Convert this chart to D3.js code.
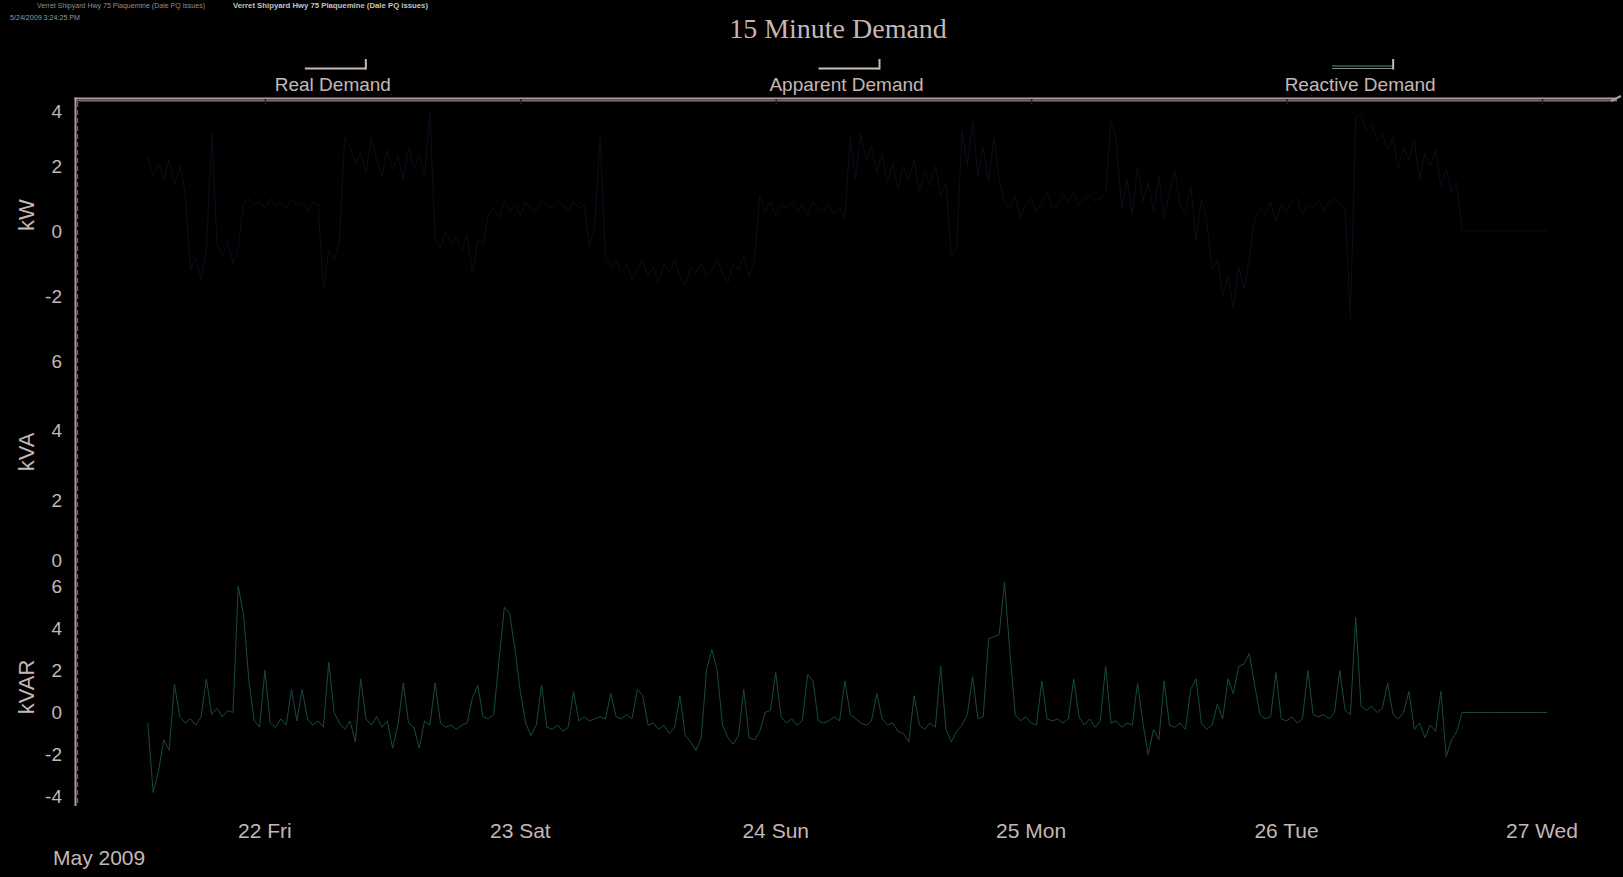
<!DOCTYPE html>
<html><head><meta charset="utf-8">
<script src="https://cdn.jsdelivr.net/npm/d3@7/dist/d3.min.js"></script>
<style>html,body{margin:0;padding:0;background:#000;overflow:hidden}</style>
</head><body>
<svg id="chart" width="1623" height="877"></svg>
<script>
// ---------- data ----------
const chartTitle = "15 Minute Demand";
const headerSite = "Verret Shipyard Hwy 75 Plaquemine (Dale PQ issues)";
const headerDate = "5/24/2009 3:24:25 PM";
const seriesNames = ["Real Demand", "Apparent Demand", "Reactive Demand"];
const panelUnits = ["kW", "kVA", "kVAR"];
const monthLabel = "May 2009";
const dayTicks = [22, 23, 24, 25, 26, 27].map(d => new Date(2009, 4, d));
const kwTicks = [4, 2, 0, -2];
const kvaTicks = [6, 4, 2, 0];
const kvarTicks = [6, 4, 2, 0, -2, -4];
const startTime = new Date(2009, 4, 21, 13, 0);   // first sample
const stepMinutes = 30;                            // sample spacing

// Real demand (kW), every 30 min from May 21 13:00
const kwValues = [
  2.3, 1.7, 2.1, 1.6, 2.2, 1.4, 2.0, 1.2, -1.2, -0.8,
  -1.5, -0.6, 3.0, -0.4, -0.8, -0.3, -1.0, -0.5, 0.9, 1.0, 0.8, 0.9,
  0.7, 1.0, 0.8, 0.9, 0.7, 1.0, 0.8, 0.9, 0.6, 0.9, 0.8, -1.8,
  -0.6, -0.9, -0.3, 2.9, 2.6, 2.1, 2.4, 1.8, 2.9, 2.2, 1.7, 2.5,
  1.9, 2.3, 1.6, 2.6, 1.9, 2.4, 1.7, 3.7, -0.3, -0.5, 0.0, -0.4,
  -0.2, -0.6, -0.1, -1.3, -0.3, -0.4, 0.5, 0.7, 0.4, 0.9, 0.6, 0.8,
  0.5, 0.9, 0.7, 0.6, 0.9, 0.8, 0.7, 0.9, 0.8, 0.6, 0.9, 0.7,
  0.8, -0.5, 0.2, 2.9, -0.8, -1.1, -0.9, -1.3, -1.0, -1.5, -1.2, -0.9,
  -1.4, -1.1, -1.6, -1.0, -1.3, -0.9, -1.4, -1.7, -1.1, -1.3, -1.0, -1.4,
  -1.2, -0.9, -1.3, -1.6, -1.0, -1.2, -0.8, -1.4, -0.9, 1.1, 0.6, 0.9,
  0.5, 0.8, 0.7, 0.9, 0.6, 0.8, 0.5, 0.9, 0.7, 0.6, 0.8, 0.5,
  0.7, 0.4, 2.9, 1.6, 3.0, 2.2, 2.6, 1.8, 2.4, 1.5, 2.1, 1.3,
  2.0, 1.6, 2.2, 1.2, 1.9, 1.4, 2.0, 1.1, 1.5, -0.8, -0.5, 3.1,
  2.0, 3.4, 1.7, 2.6, 1.5, 2.9, 1.6, 0.9, 0.7, 1.1, 0.4, 0.8,
  1.0, 0.6, 0.9, 1.2, 0.7, 0.8, 1.1, 0.9, 1.2, 0.8, 1.0, 1.1,
  0.9, 1.0, 1.2, 3.4, 2.8, 0.7, 1.6, 0.5, 2.0, 0.9, 1.5, 0.6,
  1.7, 0.4, 1.2, 1.9, 0.8, 0.5, 1.4, -0.3, 1.0, 0.3, -1.2, -0.9,
  -2.0, -1.4, -2.4, -1.1, -1.8, -0.9, 0.4, 0.7, 0.5, 0.9, 0.3, 0.8,
  0.6, 0.9, 1.0, 0.5, 0.8, 0.7, 1.0, 0.6, 0.9, 1.0, 0.8, 0.7,
  -2.7, 3.5, 3.6, 3.1, 3.3, 2.8, 3.0, 2.5, 2.9, 1.9, 2.6, 2.2,
  2.8, 1.6, 2.4, 2.0, 2.5, 1.4, 1.9, 1.2, 1.5, 0.0,
  0, 0, 0, 0, 0, 0, 0, 0, 0, 0, 0, 0, 0, 0, 0, 0
];

// Apparent demand (kVA): no trace visible in the chart
const kvaValues = [];

// Reactive demand (kVAR), every 30 min from May 21 13:00
const kvarValues = [
  -0.5, -3.8, -2.8, -1.3, -1.8, 1.35, -0.2, -0.5, -0.3, -0.6,
  -0.2, 1.6, -0.1, 0.2, -0.2, 0.1, 0.0, 6.0, 4.6, 1.5, -0.4, -0.7,
  2.0, -0.5, -0.7, -0.3, -0.6, 1.1, -0.4, 1.1, -0.3, -0.6, -0.4, -0.7,
  2.4, 0.0, -0.5, -0.8, -0.4, -1.4, 1.6, -0.3, -0.6, -0.2, -0.7, -0.4,
  -1.7, -0.6, 1.4, -0.5, -0.7, -1.7, -0.4, -0.6, 1.4, -0.5, -0.7, -0.6,
  -0.8, -0.6, -0.5, 0.7, 1.3, -0.2, -0.3, -0.1, 2.5, 5.0, 4.7, 3.0,
  1.0, -0.5, -1.1, -0.6, 1.3, -0.7, -0.8, -0.6, -0.9, -0.7, 1.0, -0.4,
  -0.2, -0.4, -0.3, -0.2, -0.3, 0.9, -0.2, -0.3, -0.1, -0.3, 1.1, 0.8,
  -0.6, -0.5, -0.8, -0.6, -1.0, -0.7, 0.8, -1.1, -1.4, -1.8, -1.2, 2.0,
  3.0, 2.0, -0.6, -1.2, -1.5, -1.1, 1.1, -1.2, -1.3, -0.9, 0.0, 0.1,
  1.9, -0.2, -0.5, -0.3, -0.6, -0.4, 1.8, 1.5, -0.4, -0.5, -0.4, -0.2,
  -0.4, 1.5, -0.1, -0.3, -0.5, -0.6, -0.4, 0.9, -0.3, -0.6, -0.5, -0.9,
  -1.0, -1.4, 0.8, -0.6, -0.8, -0.5, -0.7, 2.2, -0.8, -1.4, -0.9, -0.6,
  -0.1, 1.7, -0.3, -0.2, 3.5, 3.6, 3.7, 6.2, 2.9, -0.1, -0.4, -0.2,
  -0.5, -0.6, 1.5, -0.3, -0.4, -0.3, -0.5, -0.3, 1.6, -0.2, -0.6, -0.3,
  -0.7, -0.4, 2.2, -0.5, -0.4, -0.7, -0.5, -0.6, 1.4, -0.5, -2.0, -0.8,
  -1.3, 1.5, -0.6, -0.7, -0.5, -0.8, 1.1, 1.6, -0.5, -0.8, -0.6, 0.4,
  -0.3, 1.6, 0.9, 2.2, 2.3, 2.8, 1.3, -0.1, -0.3, -0.2, 1.9, -0.3,
  -0.4, -0.2, -0.5, -0.3, 2.0, -0.1, -0.2, -0.1, -0.3, 0.0, 2.0, 0.1,
  -0.1, 4.5, 0.3, 0.1, 0.3, 0.0, 0.2, 1.4, -0.1, -0.3, 0.0, 1.0,
  -0.8, -0.5, -1.2, -0.6, -0.9, 1.0, -2.1, -1.3, -0.9, 0.0,
  0, 0, 0, 0, 0, 0, 0, 0, 0, 0, 0, 0, 0, 0, 0, 0
];

// ---------- layout / style ----------
const W = 1623, H = 877;
const plotLeft = 76, plotRight = 1617, plotTop = 100;
const textColor = "#c6b7b7";
const axisColor = "#ad9d9c";
const sans = "'Liberation Sans', Arial, sans-serif";

const toPoints = vals => vals.map((v, i) => ({ t: new Date(startTime.getTime() + i * stepMinutes * 60000), v }));

const panels = [
  { unit: panelUnits[0], top: 100, bottom: 340, domain: [-3.364, 4.043], ticks: kwTicks, values: kwValues, color: "#130a1a", titleY: 215 },
  { unit: panelUnits[1], top: 340, bottom: 570, domain: [-0.014, 6.604], ticks: kvaTicks, values: kvaValues, color: "#111111", titleY: 452 },
  { unit: panelUnits[2], top: 570, bottom: 806, domain: [-4.442, 6.770], ticks: kvarTicks, values: kvarValues, color: "#174a44", titleY: 687 }
];

const svg = d3.select("#chart");
svg.append("rect").attr("width", W).attr("height", H).attr("fill", "#000");

const x = d3.scaleTime()
  .domain([new Date(2009, 4, 21, 6, 15), new Date(2009, 4, 27, 7, 3)])
  .range([plotLeft, plotRight]);

// header
svg.append("text").attr("x", 37).attr("y", 8).attr("font-family", sans).attr("font-size", 7)
  .attr("fill", "#8e8e8e").attr("textLength", 168).attr("lengthAdjust", "spacingAndGlyphs").text(headerSite);
svg.append("text").attr("x", 233).attr("y", 8).attr("font-family", sans).attr("font-size", 7.5).attr("font-weight", "bold")
  .attr("fill", "#c4c4c4").attr("textLength", 195).attr("lengthAdjust", "spacingAndGlyphs").text(headerSite);
svg.append("text").attr("x", 10).attr("y", 20).attr("font-family", sans).attr("font-size", 6.5)
  .attr("fill", "#9a9a9a").attr("textLength", 70).attr("lengthAdjust", "spacingAndGlyphs").text(headerDate);

// title
svg.append("text").attr("x", 838).attr("y", 38).attr("text-anchor", "middle")
  .attr("font-family", "'Liberation Serif', 'Times New Roman', serif").attr("font-size", 28)
  .attr("fill", textColor).text(chartTitle);

// legend
const legendColors = ["#c8b9b0", "#cdc2b5", "#1d4d46"];
const third = (plotRight - plotLeft) / 3;
seriesNames.forEach((name, i) => {
  const c = plotLeft + third * (i + 0.5);
  const g = svg.append("g");
  g.append("line").attr("x1", c - 28).attr("x2", c + 33).attr("y1", i === 2 ? 66 : 68.5).attr("y2", i === 2 ? 66 : 68.5)
    .attr("stroke", legendColors[i]).attr("stroke-width", 2);
  if (i === 2) {
    g.append("line").attr("x1", c - 28).attr("x2", c + 33).attr("y1", 68.5).attr("y2", 68.5)
      .attr("stroke", "#8f8580").attr("stroke-width", 1);
  }
  g.append("line").attr("x1", c + 33).attr("x2", c + 33).attr("y1", 59).attr("y2", 69.5)
    .attr("stroke", "#c8b9b0").attr("stroke-width", 2);
  g.append("text").attr("x", c).attr("y", 91).attr("text-anchor", "middle")
    .attr("font-family", sans).attr("font-size", 19).attr("fill", textColor).text(name);
});

// panels
panels.forEach(p => {
  const y = d3.scaleLinear().domain(p.domain).range([p.bottom, p.top]);
  const g = svg.append("g");
  // tick labels
  g.selectAll("text.tick").data(p.ticks).join("text")
    .attr("class", "tick")
    .attr("x", 62)
    .attr("y", d => Math.max(p.top + 11, Math.min(p.bottom - 10, y(d))))
    .attr("dy", "0.36em")
    .attr("text-anchor", "end")
    .attr("font-family", sans).attr("font-size", 19).attr("fill", textColor)
    .text(d => String(d));
  // unit title
  g.append("text")
    .attr("transform", `translate(26,${p.titleY}) rotate(-90)`)
    .attr("dy", "0.36em").attr("text-anchor", "middle")
    .attr("font-family", sans).attr("font-size", 22).attr("fill", textColor)
    .text(p.unit);
  // data line
  if (p.values.length) {
    const line = d3.line().x(d => x(d.t)).y(d => y(d.v));
    g.append("path").datum(toPoints(p.values))
      .attr("d", line).attr("fill", "none")
      .attr("stroke", p.color).attr("stroke-width", 1);
  }
});

// left axis
svg.append("line").attr("x1", 75.5).attr("x2", 75.5).attr("y1", 97.5).attr("y2", 806)
  .attr("stroke", axisColor).attr("stroke-width", 2);
svg.append("line").attr("x1", 77.5).attr("x2", 77.5).attr("y1", 102).attr("y2", 806)
  .attr("stroke", "#6f5f5e").attr("stroke-width", 1.5).attr("stroke-dasharray", "5,3");

// top axis band
svg.append("line").attr("x1", plotLeft - 1.5).attr("x2", plotRight).attr("y1", 98.5).attr("y2", 98.5)
  .attr("stroke", axisColor).attr("stroke-width", 2);
svg.append("line").attr("x1", plotLeft).attr("x2", plotRight).attr("y1", 100.8).attr("y2", 100.8)
  .attr("stroke", "#7d6d6b").attr("stroke-width", 1.5);
svg.append("line").attr("x1", plotRight - 6).attr("x2", plotRight + 4).attr("y1", 101).attr("y2", 96)
  .attr("stroke", axisColor).attr("stroke-width", 2);

// top axis day ticks
const topAxis = d3.axisTop(x).tickValues(dayTicks).tickSize(5).tickFormat("");
const ta = svg.append("g").attr("transform", `translate(0,${plotTop + 4})`).call(topAxis);
ta.select(".domain").remove();
ta.selectAll(".tick line").attr("stroke", "#2b2020").attr("stroke-width", 1.5);

// bottom day labels
const fmt = d3.timeFormat("%d %a");
svg.append("g").selectAll("text").data(dayTicks).join("text")
  .attr("x", d => x(d)).attr("y", 838).attr("text-anchor", "middle")
  .attr("font-family", sans).attr("font-size", 21).attr("fill", textColor)
  .text(d => fmt(d));

svg.append("text").attr("x", 53).attr("y", 865)
  .attr("font-family", sans).attr("font-size", 21).attr("fill", textColor).text(monthLabel);
</script>
</body></html>
